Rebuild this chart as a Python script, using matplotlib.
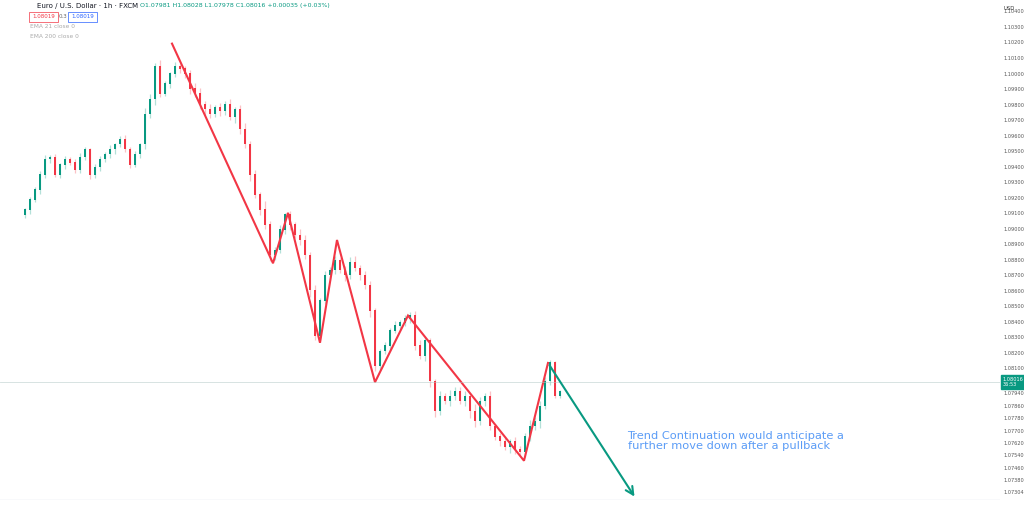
import numpy as np
import matplotlib.pyplot as plt

# ---------------------------------------------------------------------------
# Data (EUR/USD 1h, closes per candle)
# ---------------------------------------------------------------------------
closes = [
    1.09125, 1.09190, 1.09255, 1.09352, 1.09450, 1.09463, 1.09352, 1.09417, 1.09450, 1.09430,
    1.09385, 1.09463, 1.09515, 1.09352, 1.09398, 1.09450, 1.09482, 1.09515, 1.09547, 1.09580,
    1.09515, 1.09417, 1.09482, 1.09547, 1.09742, 1.09839, 1.10047, 1.09872, 1.09937, 1.10001,
    1.10047, 1.10034, 1.10001, 1.09904, 1.09872, 1.09807, 1.09774, 1.09742, 1.09787, 1.09761,
    1.09807, 1.09722, 1.09774, 1.09644, 1.09547, 1.09352, 1.09223, 1.09125, 1.09028, 1.08833,
    1.08866, 1.08996, 1.09093, 1.09028, 1.08963, 1.08931, 1.08833, 1.08606, 1.08314, 1.08541,
    1.08703, 1.08736, 1.08801, 1.08736, 1.08703, 1.08788, 1.08749, 1.08703, 1.08639, 1.08476,
    1.08119, 1.08216, 1.08249, 1.08347, 1.08379, 1.08398, 1.08424, 1.08444, 1.08249, 1.08184,
    1.08282, 1.08022, 1.07827, 1.07925, 1.07892, 1.07925, 1.07957, 1.07892, 1.07925, 1.07827,
    1.07762, 1.07892, 1.07925, 1.07730, 1.07665, 1.07633, 1.07600, 1.07633, 1.07581, 1.07568,
    1.07665, 1.07730, 1.07762, 1.07860, 1.08022, 1.08139, 1.07925, 1.07957,
]
wick_up = [2, 4, 3, 5, 6, 3, 4, 2, 5, 3, 4, 6, 3, 2, 5, 4, 3, 6, 2, 4,
           5, 3, 4, 2, 8, 6, 5, 9, 4, 3, 6, 4, 3, 5, 8, 7, 4, 6, 3, 5,
           4, 6, 3, 5, 8, 4, 6, 3, 12, 5, 4, 6, 3, 5, 4, 8, 6, 4, 7, 3,
           5, 4, 6, 3, 5, 7, 8, 4, 5, 6, 4, 3, 5, 4, 6, 3, 5, 4, 6, 8,
           5, 4, 3, 6, 4, 8, 6, 5, 7, 4, 9, 5, 4, 6, 3, 5, 4, 3, 6, 4,
           5, 8, 6, 7, 5, 4, 3, 2]
wick_dn = [4, 5, 3, 6, 4, 5, 3, 4, 6, 3, 5, 4, 3, 6, 4, 5, 3, 4, 6, 3,
           4, 5, 3, 4, 6, 5, 8, 4, 3, 5, 4, 6, 5, 7, 4, 6, 8, 5, 4, 6,
           5, 4, 7, 6, 5, 8, 4, 6, 5, 7, 6, 4, 5, 6, 4, 7, 5, 9, 6, 5,
           4, 6, 5, 4, 7, 5, 4, 6, 5, 8, 6, 5, 4, 6, 3, 5, 4, 6, 5, 4,
           6, 8, 7, 5, 4, 6, 5, 4, 6, 8, 7, 5, 6, 5, 4, 6, 5, 8, 6, 4,
           7, 6, 5, 8, 4, 5, 3, 2]

# zigzag swing points (candle index, price)
zig_x = [29.4, 49.6, 52.6, 59.0, 62.4, 70.0, 76.6, 99.8, 104.6]
zig_y = [1.10196, 1.08781, 1.09106, 1.08269, 1.08931, 1.08015, 1.08444, 1.07509, 1.08139]
proj_x = [104.6, 122.2]
proj_y = [1.08139, 1.07263]

last_price = 1.08016
ticks_major = [1.104 - 0.001 * k for k in range(24)]
ticks_low = [1.0794, 1.0786, 1.0778, 1.0770, 1.0762, 1.0754, 1.0746, 1.0738, 1.07304]

UP = '#089981'
DN = '#f23645'

W, H = 1024, 505
fig = plt.figure(figsize=(W / 100, H / 100), dpi=100)
ax = fig.add_axes([0, 5 / H, 1000 / W, 1 - 5 / H])
ax.set_xlim(-5, 195)
ax.set_ylim(1.07256, 1.10477)

opens = [closes[0] - 0.0003] + closes[:-1]
for i, (o, c) in enumerate(zip(opens, closes)):
    col = UP if c >= o else DN
    hi = max(o, c) + wick_up[i] * 0.00005
    lo = min(o, c) - wick_dn[i] * 0.00005
    ax.vlines(i, lo, hi, color=col, alpha=0.3, lw=0.9)
    ax.bar(i, abs(c - o) + 0.00003, bottom=min(o, c), width=0.55, color=col, lw=0)

ax.plot(zig_x, zig_y, color=DN, lw=1.5, solid_joinstyle='miter')
ax.annotate('', xy=(proj_x[1], proj_y[1]), xytext=(proj_x[0], proj_y[0]),
            arrowprops=dict(arrowstyle='->', color=UP, lw=1.5, mutation_scale=14))
ax.axhline(last_price, color='#b2c8c6', lw=0.6, alpha=0.6)

ax.text(120.5, 1.0770, 'Trend Continuation would anticipate a\nfurther move down after a pullback',
        color='#5b9cf6', fontsize=8.2, va='top', linespacing=1.05)

for s in ax.spines.values():
    s.set_visible(False)
ax.set_xticks([])
ax.set_yticks([])
ax.axhline(1.07256, color='#e0e3eb', lw=1)

# right price scale
for p in ticks_major + ticks_low:
    ax.text(1.004, p, f'{p:.5f}', transform=ax.get_yaxis_transform(), fontsize=3.6,
            color='#555555', ha='left', va='center')
ax.text(1.003, last_price, '1.08016\n36:53', transform=ax.get_yaxis_transform(),
        fontsize=3.6, color='white', ha='left', va='center', linespacing=1.0,
        bbox=dict(boxstyle='square,pad=0.35', fc=UP, ec=UP))
fig.text(1003 / W, 1 - 8 / H, 'USD', fontsize=3.8, color='#333333', va='center')

# header
fig.text(37 / W, 1 - 6 / H, 'Euro / U.S. Dollar · 1h · FXCM', fontsize=5, color='#131722', va='center')
fig.text(140 / W, 1 - 6 / H,
         'O1.07981 H1.08028 L1.07978 C1.08016 +0.00035 (+0.03%)',
         fontsize=4.5, color=UP, va='center')
fig.text(32 / W, 1 - 17 / H, '1.08019', fontsize=4.0, color=DN, va='center',
         bbox=dict(boxstyle='square,pad=0.5', fc='white', ec=DN, lw=0.5))
fig.text(59 / W, 1 - 17 / H, '0.3', fontsize=4.0, color='#666666', va='center')
fig.text(71 / W, 1 - 17 / H, '1.08019', fontsize=4.0, color='#2962ff', va='center',
         bbox=dict(boxstyle='square,pad=0.5', fc='white', ec='#2962ff', lw=0.5))
fig.text(30 / W, 1 - 27 / H, 'EMA 21 close 0', fontsize=4.2, color='#aaaaaa', va='center')
fig.text(30 / W, 1 - 37 / H, 'EMA 200 close 0', fontsize=4.2, color='#aaaaaa', va='center')

fig.savefig('out.png', dpi=100, facecolor='white')
